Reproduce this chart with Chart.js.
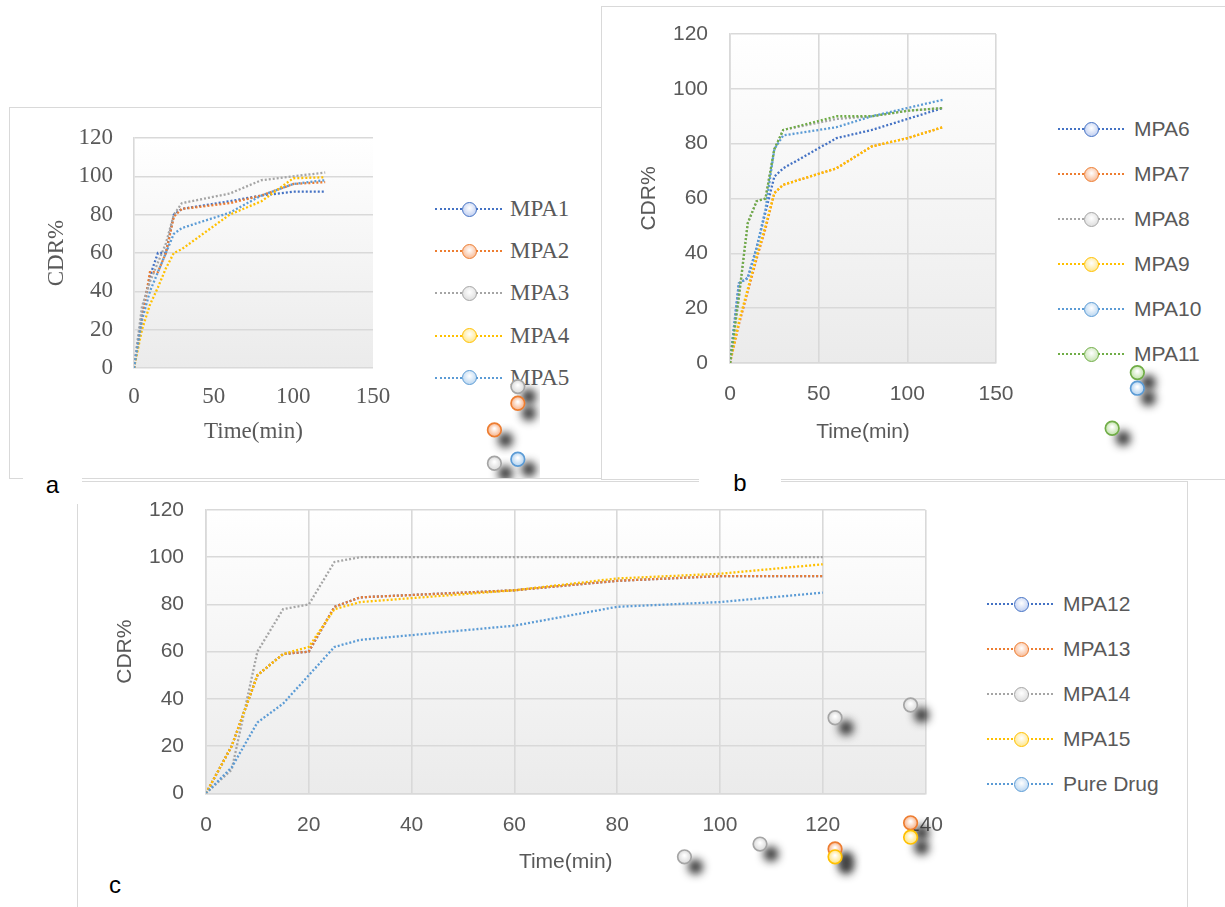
<!DOCTYPE html>
<html>
<head>
<meta charset="utf-8">
<script src="https://cdn.jsdelivr.net/npm/chart.js@4/dist/chart.umd.min.js"></script>
<style>
  html, body { margin: 0; padding: 0; background: #fff; }
  #page { position: relative; width: 1225px; height: 907px; overflow: hidden; background: #fff; }
  .box { position: absolute; border: 1.5px solid #d9d9d9; background: #fff; box-sizing: border-box; }
  canvas { position: absolute; }
  .lbl { position: absolute; background: #fff; font-family: "Liberation Sans", sans-serif; font-size: 24px; color: #000; text-align: center; }
  .lgline { position: absolute; height: 0; }
  .lgdot { position: absolute; border-radius: 50%; box-sizing: border-box; }
  .lgtext { position: absolute; transform: translateY(-50%); color: #595959; white-space: nowrap; }
</style>
</head>
<body>
<div id="page">
  <div class="box" style="left:9px; top:107px; width:593px; height:372px;"></div>
  <div class="box" style="left:601px; top:6px; width:660px; height:474px;"></div>
  <div class="box" style="left:77px; top:481px; width:1111px; height:460px;"></div>
  <div id="legA"></div>
  <div id="legB"></div>
  <div id="legC"></div>
  <canvas id="cA" width="530" height="370" style="left:10px; top:108px;"></canvas>
  <canvas id="cB" width="624" height="472" style="left:601px; top:7px;"></canvas>
  <canvas id="cC" width="899" height="424" style="left:81px; top:483px;"></canvas>
  <div class="lbl" style="left:23px; top:468px; width:59px; height:36px; line-height:34px;">a</div>
  <div class="lbl" style="left:699px; top:469px; width:82px; height:30px; line-height:28px;">b</div>
  <div class="lbl" style="left:100px; top:868px; width:30px; height:34px; line-height:34px;">c</div>
</div>
<script>
// ---------- DATA ----------
const time = [0, 5, 10, 15, 20, 25, 30, 60, 80, 100, 120];

// Panel a
const labelsA = ['MPA1', 'MPA2', 'MPA3', 'MPA4', 'MPA5'];
const mpa1 = [0, 28, 48, 60, 60, 80, 83, 87, 90, 92, 92];
const mpa2 = [0, 25, 50, 50, 60, 79, 83, 86, 90, 96, 97];
const mpa3 = [0, 32, 45, 55, 65, 80, 86, 91, 98, 100, 102];
const mpa4 = [0, 20, 33, 42, 52, 60, 62, 80, 87, 99, 99.5];
const mpa5 = [0, 25, 40, 50, 60, 70, 73, 81, 90, 96, 98];

// Panel b
const labelsB = ['MPA6', 'MPA7', 'MPA8', 'MPA9', 'MPA10', 'MPA11'];
const mpa6 = [0, 29, 31, 42, 55, 68, 71, 82, 85, 89, 93];
const mpa7 = [0, 14, 26, 38, 49, 62, 65, 71, 79, 82, 86];
const mpa8 = [0, 24, 51, 59, 60, 78, 85, 89, 90, 92, 93];
const mpa9 = [0, 15, 27, 39, 50, 62, 65, 71, 79, 82, 86];
const mpa10 = [0, 29, 31, 42, 56, 78, 83, 86, 90, 93, 96];
const mpa11 = [0, 24, 51, 59, 60, 78, 85, 90, 90, 92, 93];

// Panel c
const labelsC = ['MPA12', 'MPA13', 'MPA14', 'MPA15', 'Pure Drug'];
const mpa12 = [0, 20, 50, 59, 60, 79, 83, 86, 90, 92, 92];
const mpa13 = [0, 20, 50, 59, 60, 79, 83, 86, 90, 92, 92];
const mpa14 = [0, 10, 60, 78, 80, 98, 100, 100, 100, 100, 100];
const mpa15 = [0, 20, 50, 59, 62, 78, 81, 86, 91, 93, 97];
const pureDrug = [0, 11, 30, 38, 50, 62, 65, 71, 79, 81, 85];

// Stray markers in the original figure (data units of each panel)
const strayA_mpa3_x = [240.9, 226.2], strayA_mpa3_y = [-9.7, -49.7];
const strayA_mpa2_x = [240.9, 226.2], strayA_mpa2_y = [-18.4, -32.3];
const strayA_mpa5_x = [240.9],        strayA_mpa5_y = [-47.6];
const strayB_mpa11_x = [229.7, 215.5], strayB_mpa11_y = [-3.5, -23.8];
const strayB_mpa10_x = [229.7],       strayB_mpa10_y = [-9.2];
const strayC_mpa14_x = [122.4, 137.1, 93.1, 107.8], strayC_mpa14_y = [32, 37.4, -26.9, -21.5];
const strayC_mpa13_x = [122.4, 137.1], strayC_mpa13_y = [-23.6, -12.5];
const strayC_mpa15_x = [122.4, 137.1], strayC_mpa15_y = [-26.9, -18.6];

// Axis ticks
const yTicks = [0, 20, 40, 60, 80, 100, 120];
const xTicksAB = [0, 50, 100, 150];
const xTicksC = [0, 20, 40, 60, 80, 100, 120, 140];

// ---------- STYLES ----------
const C = {
  blue:  { line: '#4472C4', fill: '#c8d5f3' },
  orange:{ line: '#ED7D31', fill: '#f9c3a3' },
  gray:  { line: '#A5A5A5', fill: '#e2e2e2' },
  yellow:{ line: '#FFC000', fill: '#ffea9a' },
  lblue: { line: '#5B9BD5', fill: '#c3dcf3' },
  green: { line: '#70AD47', fill: '#cfe8bd' }
};

function pts(xs, ys) { return xs.map((x, i) => ({ x: x, y: ys[i] })); }

function series(label, values, col, idx) {
  return {
    label: label, data: pts(time, values), borderColor: col.line, backgroundColor: col.fill,
    borderWidth: 2.3, borderDash: [2, 2], borderCapStyle: 'butt', tension: 0,
    pointRadius: 0, pointHoverRadius: 0, fill: false, order: 100 - idx
  };
}

const bgPlugin = {
  id: 'plotbg',
  beforeDraw(chart) {
    const a = chart.chartArea, ctx = chart.ctx;
    const g = ctx.createLinearGradient(0, a.top, 0, a.bottom);
    g.addColorStop(0, '#ffffff');
    g.addColorStop(1, '#ebebeb');
    ctx.save(); ctx.fillStyle = g; ctx.fillRect(a.left, a.top, a.right - a.left, a.bottom - a.top); ctx.restore();
  }
};

// Stray circle markers (with soft shadow) placed through the chart's own scales
const strayPlugin = {
  id: 'strayMarks',
  afterDraw(chart, args, opts) {
    const ctx = chart.ctx, sx = chart.scales.x, sy = chart.scales.y;
    const FAR = 5000;
    (opts.groups || []).forEach(g => {
      g.xs.forEach((xv, i) => {
        const px = sx.getPixelForValue(xv), py = sy.getPixelForValue(g.ys[i]);
        // blurred shadow only (shape drawn off-canvas, shadow offset back in)
        ctx.save();
        ctx.shadowColor = 'rgba(40,40,40,0.95)';
        ctx.shadowBlur = 9;
        ctx.shadowOffsetX = FAR + 11;
        ctx.shadowOffsetY = 10;
        ctx.fillStyle = '#000';
        ctx.beginPath(); ctx.arc(px - FAR, py, 7.5, 0, Math.PI * 2); ctx.fill();
        ctx.restore();
        ctx.save();
        const rg = ctx.createRadialGradient(px, py - 1.5, 0.5, px, py, 7);
        rg.addColorStop(0, '#ffffff');
        rg.addColorStop(0.75, g.col.fill);
        rg.addColorStop(1, g.col.fill);
        ctx.fillStyle = rg;
        ctx.strokeStyle = g.col.line;
        ctx.lineWidth = 1.7;
        ctx.beginPath(); ctx.arc(px, py, 6.8, 0, Math.PI * 2); ctx.fill(); ctx.stroke();
        ctx.restore();
      });
    });
  }
};

function makeChart(id, datasets, strays, cfg) {
  const tickFont = { family: cfg.family, size: cfg.size };
  new Chart(document.getElementById(id), {
    type: 'line',
    data: { datasets: datasets },
    plugins: [bgPlugin, strayPlugin],
    options: {
      responsive: false, animation: false, events: [],
      layout: { padding: { left: 0, top: cfg.top, right: cfg.right, bottom: 0 } },
      plugins: { legend: { display: false }, tooltip: { enabled: false }, strayMarks: { groups: strays } },
      scales: {
        x: {
          type: 'linear', min: cfg.xTicks[0], max: cfg.xTicks[cfg.xTicks.length - 1],
          afterBuildTicks: s => { s.ticks = cfg.xTicks.map(v => ({ value: v })); },
          afterFit: s => { s.height = cfg.xh; s.paddingLeft = 0; s.paddingRight = 0; },
          grid: { display: cfg.xGrid, color: '#d9d9d9', lineWidth: 1.6, drawTicks: false },
          border: { display: cfg.xGrid, color: '#d9d9d9', width: 1.6 },
          ticks: { color: '#595959', font: tickFont, padding: cfg.xtp, maxRotation: 0, autoSkip: false },
          title: { display: true, text: 'Time(min)', color: '#595959', font: tickFont, padding: { top: 0, bottom: cfg.xtb } }
        },
        y: {
          type: 'linear', min: 0, max: 120,
          afterBuildTicks: s => { s.ticks = yTicks.map(v => ({ value: v })); },
          afterFit: s => { s.width = cfg.yw; s.paddingTop = 0; s.paddingBottom = 0; },
          grid: { color: '#d9d9d9', lineWidth: 1.6, drawTicks: false },
          border: { display: true, color: '#d9d9d9', width: 1.6 },
          ticks: { color: '#595959', font: tickFont, padding: cfg.ytp, autoSkip: false },
          title: { display: true, text: 'CDR%', color: '#595959', font: tickFont, padding: { top: cfg.ytt, bottom: 0 } }
        }
      }
    }
  });
}

function makeLegend(id, labels, cols, geo) {
  const host = document.getElementById(id);
  labels.forEach((lab, i) => {
    const y = geo.y0 + i * geo.dy;
    const col = cols[i];
    const line = document.createElement('div');
    line.className = 'lgline';
    line.style.cssText = `left:${geo.l0}px; top:${y - 1}px; width:${geo.l1 - geo.l0}px; border-top:2px dotted ${col.line};`;
    host.appendChild(line);
    const dot = document.createElement('div');
    dot.className = 'lgdot';
    dot.style.cssText = `left:${geo.cx - 7.5}px; top:${y - 7.5}px; width:15px; height:15px; border:1.6px solid ${col.line}; background:radial-gradient(circle at 50% 40%, #fff 0%, ${col.fill} 70%);`;
    host.appendChild(dot);
    const t = document.createElement('div');
    t.className = 'lgtext';
    t.textContent = lab;
    t.style.cssText = `left:${geo.tx}px; top:${y}px; font-family:${geo.family}; font-size:${geo.size}px;`;
    host.appendChild(t);
  });
}

// ---------- PANEL A ----------
const colsA = [C.blue, C.orange, C.gray, C.yellow, C.lblue];
const valsA = [mpa1, mpa2, mpa3, mpa4, mpa5];
const dsA = labelsA.map((l, i) => series(l, valsA[i], colsA[i], i));
const strayA = [
  { xs: strayA_mpa3_x, ys: strayA_mpa3_y, col: C.gray },
  { xs: strayA_mpa2_x, ys: strayA_mpa2_y, col: C.orange },
  { xs: strayA_mpa5_x, ys: strayA_mpa5_y, col: C.lblue }
];
makeLegend('legA', labelsA, colsA, { y0: 209, dy: 42.2, cx: 469, l0: 435, l1: 502, tx: 510, family: '"Liberation Serif", serif', size: 23 });
makeChart('cA', dsA, strayA, { family: '"Liberation Serif", serif', size: 23, top: 30, right: 167, yw: 124, xh: 110,
  xtp: 15, xtb: 32, ytp: 21, ytt: 33, xGrid: false, xTicks: xTicksAB });

// ---------- PANEL B ----------
const colsB = [C.blue, C.orange, C.gray, C.yellow, C.lblue, C.green];
const valsB = [mpa6, mpa7, mpa8, mpa9, mpa10, mpa11];
const dsB = labelsB.map((l, i) => series(l, valsB[i], colsB[i], i));
const strayB = [
  { xs: strayB_mpa11_x, ys: strayB_mpa11_y, col: C.green },
  { xs: strayB_mpa10_x, ys: strayB_mpa10_y, col: C.lblue }
];
makeLegend('legB', labelsB, colsB, { y0: 129, dy: 45, cx: 1091, l0: 1058, l1: 1124, tx: 1134, family: '"Liberation Sans", sans-serif', size: 21 });
makeChart('cB', dsB, strayB, { family: '"Liberation Sans", sans-serif', size: 21, top: 27, right: 229, yw: 129, xh: 116,
  xtp: 19, xtb: 34, ytp: 22, ytt: 36, xGrid: true, xTicks: xTicksAB });

// ---------- PANEL C ----------
const colsC = [C.blue, C.orange, C.gray, C.yellow, C.lblue];
const valsC = [mpa12, mpa13, mpa14, mpa15, pureDrug];
const dsC = labelsC.map((l, i) => series(l, valsC[i], colsC[i], i));
const strayC = [
  { xs: strayC_mpa14_x, ys: strayC_mpa14_y, col: C.gray },
  { xs: strayC_mpa13_x, ys: strayC_mpa13_y, col: C.orange },
  { xs: strayC_mpa15_x, ys: strayC_mpa15_y, col: C.yellow }
];
makeLegend('legC', labelsC, colsC, { y0: 604, dy: 45, cx: 1021, l0: 987, l1: 1053, tx: 1063, family: '"Liberation Sans", sans-serif', size: 21 });
makeChart('cC', dsC, strayC, { family: '"Liberation Sans", sans-serif', size: 21, top: 27, right: 54.5, yw: 125, xh: 113.7,
  xtp: 19, xtb: 32, ytp: 22, ytt: 32, xGrid: true, xTicks: xTicksC });
</script>
</body>
</html>
